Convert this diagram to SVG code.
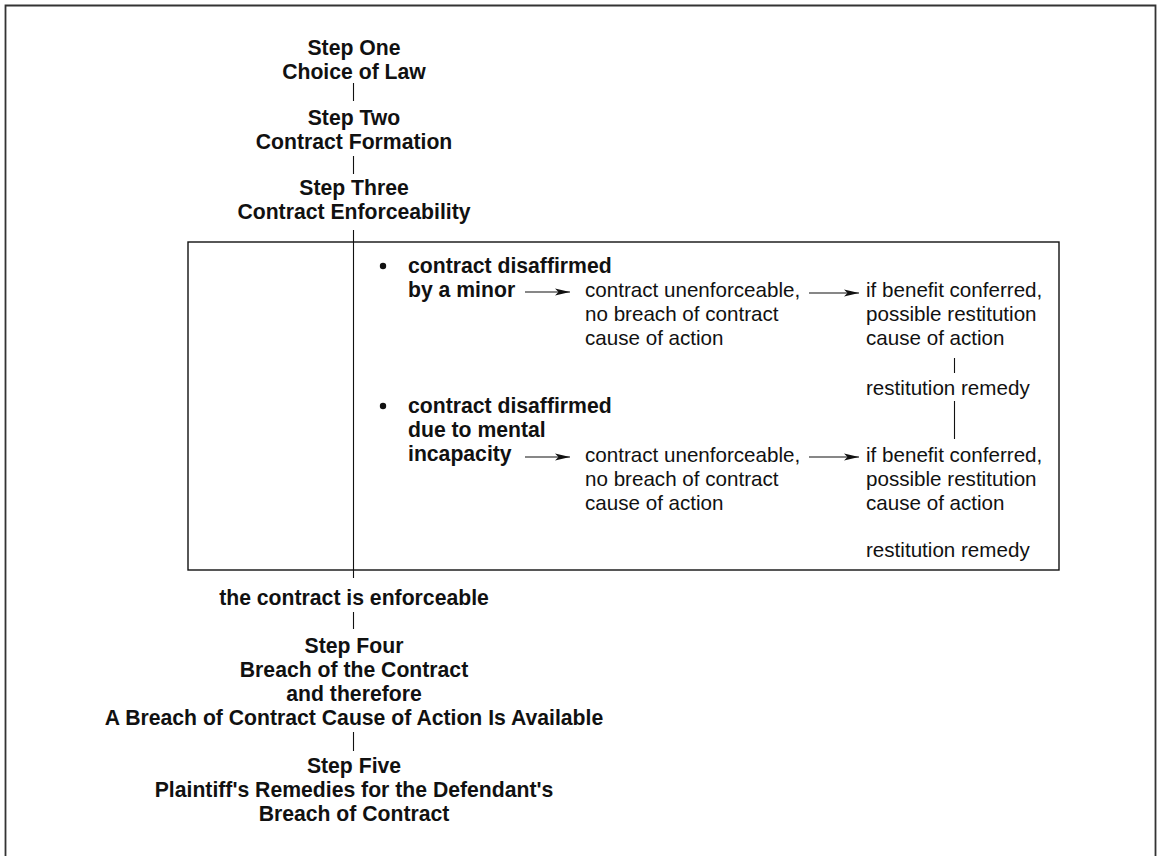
<svg xmlns="http://www.w3.org/2000/svg" width="1160" height="856" viewBox="0 0 1160 856">
<style>
.b{font-family:"Liberation Sans",Arial,sans-serif;font-weight:bold;font-size:21.2px;fill:#111}
.r{font-family:"Liberation Sans",Arial,sans-serif;font-size:20.6px;fill:#111}
.c{text-anchor:middle}
.ln{stroke:#111;stroke-width:1.1;fill:none}
</style>
<defs>
<marker id="ah" markerUnits="userSpaceOnUse" markerWidth="15" markerHeight="8" refX="15" refY="4" orient="auto" viewBox="0 0 15 8">
<path d="M0,0.5 L15,4 L0,7.5 L3.5,4 z" fill="#111"/>
</marker>
</defs>
<rect width="1160" height="856" fill="#fff"/>
<path d="M5.5,860 V5.5 H1155.5 V860" fill="none" stroke="#333" stroke-width="1.8"/>

<g id="connectors">
<line class="ln" x1="353.5" y1="83" x2="353.5" y2="101"/>
<line class="ln" x1="353.5" y1="156" x2="353.5" y2="174"/>
<line class="ln" x1="353.5" y1="230" x2="353.5" y2="578"/>
<line class="ln" x1="353.5" y1="612" x2="353.5" y2="629"/>
<line class="ln" x1="353.5" y1="732" x2="353.5" y2="751"/>
<line class="ln" x1="954.5" y1="358" x2="954.5" y2="373"/>
<line class="ln" x1="954.5" y1="401" x2="954.5" y2="439"/>
<line class="ln" x1="525" y1="292" x2="570" y2="292" marker-end="url(#ah)"/>
<line class="ln" x1="809" y1="293" x2="859" y2="293" marker-end="url(#ah)"/>
<line class="ln" x1="525" y1="457" x2="570" y2="457" marker-end="url(#ah)"/>
<line class="ln" x1="809" y1="457" x2="859" y2="457" marker-end="url(#ah)"/>
</g>

<g id="box">
<rect x="188" y="242" width="871" height="328" fill="none" stroke="#111" stroke-width="1.4"/>
</g>

<g id="step1"><text class="b c" x="354" y="55">Step One</text><text class="b c" x="354" y="79">Choice of Law</text></g>
<g id="step2"><text class="b c" x="354" y="125">Step Two</text><text class="b c" x="354" y="149">Contract Formation</text></g>
<g id="step3"><text class="b c" x="354" y="195">Step Three</text><text class="b c" x="354" y="219">Contract Enforceability</text></g>

<g id="minor">
<circle cx="383" cy="266" r="3.2" fill="#111"/>
<text class="b" x="408" y="273">contract disaffirmed</text>
<text class="b" x="408" y="297">by a minor</text>
</g>
<g id="unenf1">
<text class="r" x="585" y="297">contract unenforceable,</text>
<text class="r" x="585" y="321">no breach of contract</text>
<text class="r" x="585" y="345">cause of action</text>
</g>
<g id="benefit1">
<text class="r" x="866" y="297">if benefit conferred,</text>
<text class="r" x="866" y="321">possible restitution</text>
<text class="r" x="866" y="345">cause of action</text>
</g>
<g id="remedy1"><text class="r" x="866" y="395">restitution remedy</text></g>

<g id="mental">
<circle cx="383" cy="406" r="3.2" fill="#111"/>
<text class="b" x="408" y="413">contract disaffirmed</text>
<text class="b" x="408" y="437">due to mental</text>
<text class="b" x="408" y="461">incapacity</text>
</g>
<g id="unenf2">
<text class="r" x="585" y="462">contract unenforceable,</text>
<text class="r" x="585" y="486">no breach of contract</text>
<text class="r" x="585" y="510">cause of action</text>
</g>
<g id="benefit2">
<text class="r" x="866" y="462">if benefit conferred,</text>
<text class="r" x="866" y="486">possible restitution</text>
<text class="r" x="866" y="510">cause of action</text>
</g>
<g id="remedy2"><text class="r" x="866" y="557">restitution remedy</text></g>

<g id="enforceable"><text class="b c" x="354" y="605">the contract is enforceable</text></g>
<g id="step4">
<text class="b c" x="354" y="653">Step Four</text>
<text class="b c" x="354" y="677">Breach of the Contract</text>
<text class="b c" x="354" y="701">and therefore</text>
<text class="b c" x="354" y="725">A Breach of Contract Cause of Action Is Available</text>
</g>
<g id="step5">
<text class="b c" x="354" y="773">Step Five</text>
<text class="b c" x="354" y="797">Plaintiff's Remedies for the Defendant's</text>
<text class="b c" x="354" y="821">Breach of Contract</text>
</g>
</svg>
